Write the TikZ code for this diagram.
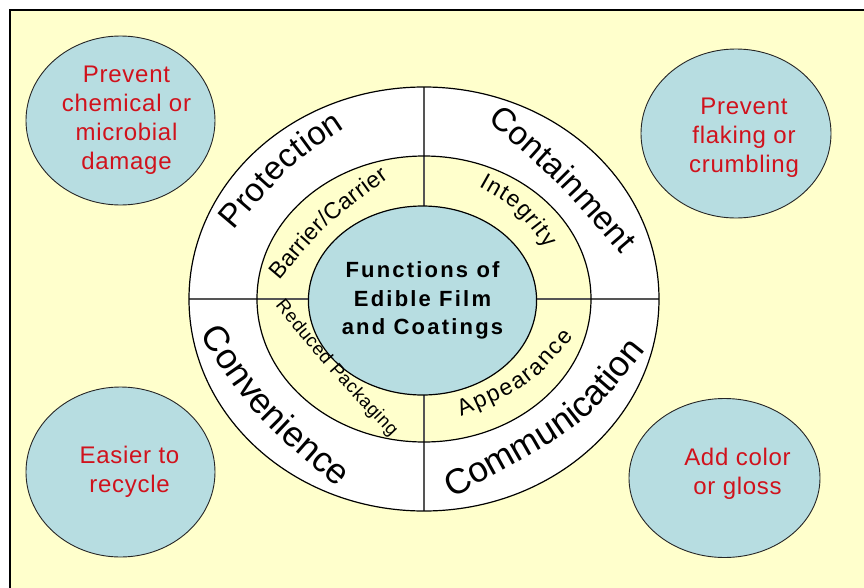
\documentclass[tikz,border=0pt]{standalone}
\usepackage{fontspec}
\setmainfont{Liberation Sans}
\newfontfamily\BubbleFont[LetterSpace=3]{Liberation Sans}
\newfontfamily\CoreFont[LetterSpace=10]{Liberation Sans}
\usetikzlibrary{positioning, calc, shapes.geometric, decorations.text}

\definecolor{PaleYellow}{RGB}{255,255,204}
\definecolor{LightCyan}{RGB}{183,221,225}
\definecolor{TextRed}{RGB}{208,18,28}
\definecolor{CrossGray}{RGB}{85,85,85}

\begin{document}
\begin{tikzpicture}
	[
	x=1pt, y=1pt,
	Bubble/.style={ellipse, draw=black!85, fill=LightCyan, line width=0.9pt, inner sep=0pt},		%Kreise aussen
	BubbleText/.style={text=TextRed, align=center, font=\BubbleFont\fontsize{24}{29}\selectfont},	%Text in den Kreisen
	RingLine/.style={draw=black, line width=1.2pt},													%Ringkonturen
	CrossLine/.style={draw=CrossGray, line width=1.8pt},											%Trennlinien
	ArcText/.style={decorate, decoration={text along path, text align={fit to path}, text={#1}}}	%Text entlang Bogen
	]

	%% Radien und Schriftgroessen %%
	\def\OutRx{235}		%Aussenring x
	\def\OutRy{212}		%Aussenring y
	\def\MidRx{167}		%Mittelring x
	\def\MidRy{143}		%Mittelring y
	\def\TopFont{\fontsize{33}{33}\selectfont}
	\def\BotFont{\fontsize{35.5}{35.5}\selectfont}
	\def\MidFont{\fontsize{23}{23}\selectfont}
	\def\SmallFont{\fontsize{18.5}{18.5}\selectfont}

	% Rahmen und Hintergrund
	\useasboundingbox (-424,-288) rectangle (440,299);
	\clip (-424,-288) rectangle (440,299);
	\fill[white] (-424,-288) rectangle (440,299);
	\filldraw[fill=PaleYellow, line width=2.6pt] (-414,-300) rectangle (452,289);

	% Koordinaten der Trennlinien
	\coordinate (OutW) at (-\OutRx,0);
	\coordinate (OutE) at (\OutRx,0);
	\coordinate (OutN) at (0,\OutRy);
	\coordinate (OutS) at (0,-\OutRy);

	%%%%%%%%%%%%%%%%%%%%%%%%%% Ringe %%%%%%%%%%%%%%%%%%%%%%%%%%
	\fill[white] (0,0) ellipse [x radius=\OutRx, y radius=\OutRy];
	\fill[PaleYellow] (0,0) ellipse [x radius=\MidRx, y radius=\MidRy];
	\draw[CrossLine] (OutW) -- (OutE);
	\draw[CrossLine] (OutN) -- (OutS);
	\draw[RingLine] (0,0) ellipse [x radius=\OutRx, y radius=\OutRy];
	\draw[RingLine] (0,0) ellipse [x radius=\MidRx, y radius=\MidRy];

	% Kern
	\node[ellipse, RingLine, fill=LightCyan, inner sep=0pt, minimum width=211, minimum height=189,
		align=center, font=\CoreFont\bfseries\fontsize{22}{28.5}\selectfont] (Core) at (-1.5,-1.5) {Functions of\\Edible Film\\and Coatings};

	% Beschriftung Aussenring
	\path[ArcText={|\TopFont|Protection}] (-190,68) .. controls (-133.5,134.5) .. (-79,171);
	\path[ArcText={|\TopFont|Containment}] (63.7,178.3) .. controls (135,116) .. (197,44.2);
	\path[ArcText={|\BotFont|Convenience}] (-224.1,-35.6) .. controls (-172.5,-114.7) .. (-86.6,-188.6);
	\path[ArcText={|\BotFont|Communication}] (28.1,-199.1) .. controls (161,-127) .. (221,-52);

	% Beschriftung Mittelring
	\path[ArcText={|\MidFont|Barrier/Carrier}] (-144.9,18.7) .. controls (-95.2,77.5) .. (-35.2,120.8);
	\path[ArcText={|\MidFont|Integrity}] (54.6,112.5) .. controls (91.6,91.6) .. (122.2,50.7);
	\path[ArcText={|\MidFont|Appearance}] (37.2,-117.7) .. controls (108,-86.1) .. (149.5,-37.3);
	\path[ArcText={|\SmallFont|Reduced Packaging}] (-148.9,-6.9) .. controls (-95,-72.6) .. (-33.1,-137.6);

	%%%%%%%%%%%%%%%%%%%%%%%%%% Kreise %%%%%%%%%%%%%%%%%%%%%%%%%%
	\node[Bubble, minimum width=189, minimum height=169] (BubDamage) at (-303.5,178.5) {};
	\node[Bubble, minimum width=190, minimum height=169] (BubFlaking) at (312,165.5) {};
	\node[Bubble, minimum width=189, minimum height=170] (BubRecycle) at (-303.5,-173) {};
	\node[Bubble, minimum width=191, minimum height=159] (BubGloss) at (300.5,-179) {};
	\node[BubbleText] (TxtDamage) at ([xshift=6pt]BubDamage.center) {Prevent\\chemical or\\microbial\\damage};
	\node[BubbleText] (TxtFlaking) at ([xshift=8pt, yshift=-4pt]BubFlaking.center) {Prevent\\flaking or\\crumbling};
	\node[BubbleText] (TxtRecycle) at ([xshift=9pt]BubRecycle.center) {Easier to\\recycle};
	\node[BubbleText] (TxtGloss) at ([xshift=13pt, yshift=4pt]BubGloss.center) {Add color\\or gloss};
\end{tikzpicture}
\end{document}
